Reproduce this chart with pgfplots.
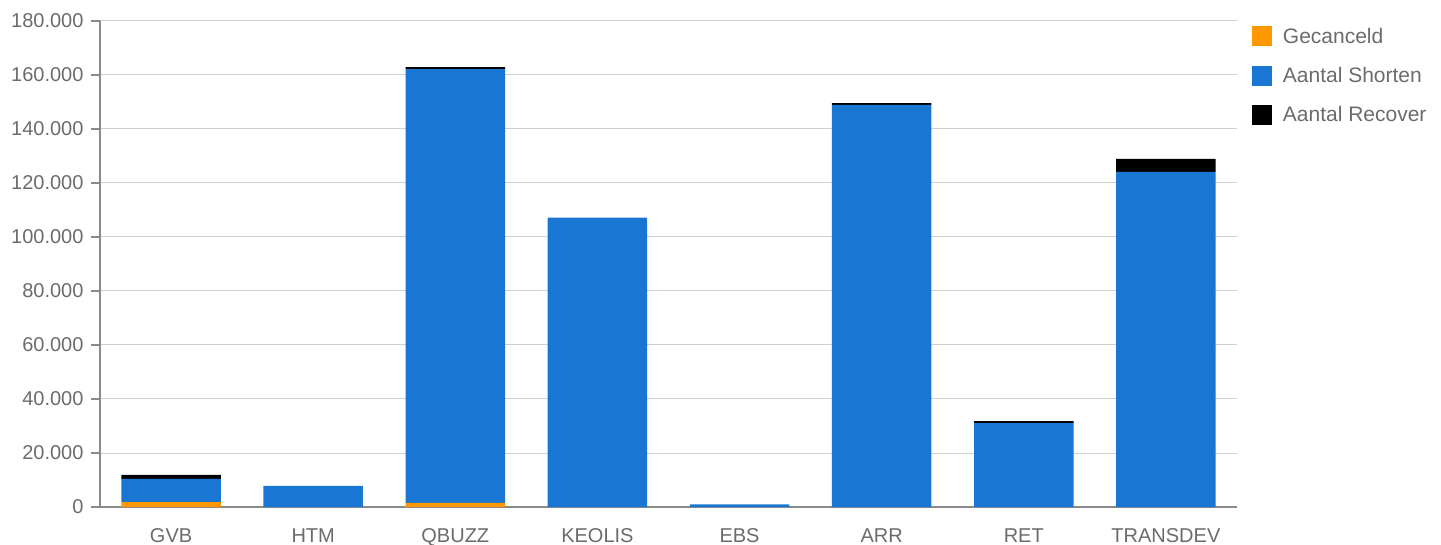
\documentclass[border=0pt]{standalone}
\usepackage{pgfplots}
\pgfplotsset{compat=1.18}
\usepackage{fontspec}
\setmainfont{Liberation Sans}
\definecolor{cOrange}{HTML}{FF9800}
\definecolor{cBlue}{HTML}{1976D2}
\definecolor{cGrid}{HTML}{D0D0D0}
\definecolor{cAxis}{HTML}{8A8A8A}
\definecolor{cText}{HTML}{6B6B6B}
\pgfplotstableread{
x  canc  short  rec
0  1800  8600   1500
1  0     7800   0
2  1500  160700 700
3  0     107200 0
4  0     1000   0
5  0     148900 700
6  0     31100  750
7  0     124100 4800
}\data
\begin{document}
\begin{tikzpicture}
\path[use as bounding box] (0,0) rectangle (1441pt,544pt);
\begin{axis}[
  at={(100pt,37pt)}, anchor=south west,
  scale only axis, width=1137pt, height=486pt,
  ybar stacked, bar width=0.7,
  xmin=-0.5, xmax=7.5, ymin=0, ymax=180000,
  ytick={0,20000,40000,60000,80000,100000,120000,140000,160000,180000},
  yticklabels={0,20.000,40.000,60.000,80.000,100.000,120.000,140.000,160.000,180.000},
  xtick={0,...,7},
  xticklabels={GVB,HTM,QBUZZ,KEOLIS,EBS,ARR,RET,TRANSDEV},
  x tick style={draw=none},
  extra x ticks={0.5,1.5,...,6.5},
  extra x tick labels={},
  extra x tick style={tick style={draw=cAxis, line width=1.2pt}, major tick length=10pt, tick align=outside, grid=none},
  y tick style={draw=cAxis, line width=1.2pt},
  major tick length=9pt, tick align=outside,
  axis x line*=bottom, axis y line*=left,
  axis line style={draw=cAxis, line width=1.3pt, -},
  ymajorgrids, grid style={draw=cGrid, line width=1pt},
  scaled y ticks=false,
  tick label style={font=\fontsize{20}{22}\selectfont, text=cText},
  yticklabel style={xshift=-4pt},
  xticklabel style={text height=14pt, text depth=0pt, inner ysep=0pt, yshift=-12pt},
  legend style={at={(1.013,0.99)}, anchor=north west, draw=none, fill=none,
    font=\fontsize{21}{24}\selectfont, text=cText, row sep=18.5pt, inner sep=0pt,
    nodes={inner xsep=11pt}},
  legend cell align=left,
  legend image code/.code={\fill[#1, draw=none] (0pt,-10pt) rectangle (20pt,10pt);},
]
\addplot[fill=cOrange, draw=none] table[x=x, y=canc] {\data};
\addplot[fill=cBlue, draw=none] table[x=x, y=short] {\data};
\addplot[fill=black, draw=none] table[x=x, y=rec] {\data};
\legend{Gecanceld, Aantal Shorten, Aantal Recover}
\end{axis}
\end{tikzpicture}
\end{document}
